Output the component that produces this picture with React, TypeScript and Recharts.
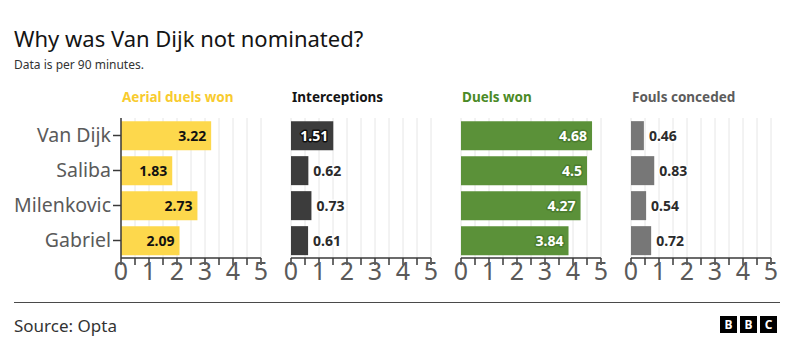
import React from "react";
import { Bar, BarChart, CartesianGrid, LabelList, XAxis, YAxis } from "recharts";

/* ────────── small-multiple bar charts: per-90 stats of four defenders ────────── */

const players = ["Van Dijk", "Saliba", "Milenkovic", "Gabriel"];
const aerialDuels = [3.22, 1.83, 2.73, 2.09];
const interceptions = [1.51, 0.62, 0.73, 0.61];
const duelsWon = [4.68, 4.5, 4.27, 3.84];
const foulsConceded = [0.46, 0.83, 0.54, 0.72];
const xTicks = [0, 0.5, 1, 1.5, 2, 2.5, 3, 3.5, 4, 4.5, 5];

const FONT = "'Noto Sans', 'Open Sans', sans-serif";
const AXIS = "#3a3a3a";

type PanelProps = {
  title: string;
  titleColor: string;
  values: number[];
  barColor: string;
  insideFill: string;
  insideStroke: string;
  left: number;
  showNames?: boolean;
};

function Panel({ title, titleColor, values, barColor, insideFill, insideStroke, left, showNames }: PanelProps) {
  const data = players.map((name, i) => ({ name, value: values[i] }));
  const yw = showNames ? 121 : 0;
  const width = showNames ? 275 : 160;
  const plotLeft = showNames ? 121 : left + 10;

  const renderLabel = (p: any) => {
    const x = Number(p.x), y = Number(p.y), w = Number(p.width), h = Number(p.height);
    const inside = w > 35;
    return (
      <text
        x={inside ? x + w - 5 : x + w + 5}
        y={y + h / 2}
        textAnchor={inside ? "end" : "start"}
        dominantBaseline="central"
        fontSize={14}
        fontWeight={700}
        fontFamily={FONT}
        fill={inside ? insideFill : "#2b2b2b"}
        stroke={inside ? insideStroke : "#ffffff"}
        strokeWidth={3}
        strokeLinejoin="round"
        paintOrder="stroke"
      >
        {p.value}
      </text>
    );
  };

  return (
    <>
      <div
        style={{
          position: "absolute",
          left: plotLeft + 1,
          top: 88,
          fontSize: 13.5,
          fontWeight: 700,
          color: titleColor,
          fontFamily: FONT,
          whiteSpace: "nowrap",
        }}
      >
        {title}
      </div>
      <div style={{ position: "absolute", left: showNames ? 0 : left, top: 110 }}>
        <BarChart
          layout="vertical"
          width={width}
          height={180}
          data={data}
          margin={{ top: 8, right: showNames ? 14 : 10, bottom: 2, left: showNames ? 0 : 10 }}
          barCategoryGap="9%"
        >
          <CartesianGrid horizontal={false} stroke="#e6e6e6" />
          <XAxis
            type="number"
            domain={[0, 5]}
            ticks={xTicks}
            interval={0}
            height={30}
            tickSize={7}
            tickMargin={-3}
            tickFormatter={(v: number) => (Number.isInteger(v) ? String(v) : "")}
            axisLine={{ stroke: AXIS, strokeWidth: 1.5 }}
            tickLine={{ stroke: AXIS, strokeWidth: 1.5 }}
            tick={{ fill: "#5a5a5a", fontSize: 25, fontFamily: FONT }}
          />
          <YAxis
            type="category"
            dataKey="name"
            hide={!showNames}
            width={yw}
            tickSize={8}
            axisLine={{ stroke: AXIS, strokeWidth: 1.5 }}
            tickLine={{ stroke: AXIS, strokeWidth: 1.5 }}
            tick={{ fill: "#5a5a5a", fontSize: 19.5, fontFamily: FONT }}
          />
          <Bar dataKey="value" fill={barColor} isAnimationActive={false}>
            <LabelList dataKey="value" content={renderLabel} />
          </Bar>
        </BarChart>
      </div>
    </>
  );
}

export default function App() {
  return (
    <div style={{ position: "relative", width: 794, height: 358, background: "#fff", fontFamily: FONT, overflow: "hidden" }}>
      <style>{`body{margin:0}`}</style>
      <div style={{ position: "absolute", left: 14, top: 23, fontSize: 22, color: "#141414", whiteSpace: "nowrap" }}>
        Why was Van Dijk not nominated?
      </div>
      <div style={{ position: "absolute", left: 14, top: 56, fontSize: 12, color: "#333", whiteSpace: "nowrap" }}>
        Data is per 90 minutes.
      </div>

      <Panel title="Aerial duels won" titleColor="#f8cb2e" values={aerialDuels} barColor="#fdd84c"
        insideFill="#111" insideStroke="#fdd84c" left={0} showNames />
      <Panel title="Interceptions" titleColor="#141414" values={interceptions} barColor="#3c3c3c"
        insideFill="#fff" insideStroke="#111" left={281} />
      <Panel title="Duels won" titleColor="#4b8a26" values={duelsWon} barColor="#5b9139"
        insideFill="#fff" insideStroke="#4b7d2e" left={451} />
      <Panel title="Fouls conceded" titleColor="#5c5c5c" values={foulsConceded} barColor="#777777"
        insideFill="#fff" insideStroke="#555" left={621} />

      <div style={{ position: "absolute", left: 14, top: 302, width: 766, height: 1, background: "#4a4a4a" }} />
      <div style={{ position: "absolute", left: 14, top: 314, fontSize: 17, color: "#333", whiteSpace: "nowrap" }}>
        Source: Opta
      </div>
      <div style={{ position: "absolute", left: 720, top: 316, display: "flex", gap: 3 }}>
        {["B", "B", "C"].map((c, i) => (
          <div key={i} style={{ width: 17, height: 17, background: "#000", color: "#fff", fontSize: 12, fontWeight: 700,
            display: "flex", alignItems: "center", justifyContent: "center", lineHeight: 1 }}>
            {c}
          </div>
        ))}
      </div>
    </div>
  );
}
